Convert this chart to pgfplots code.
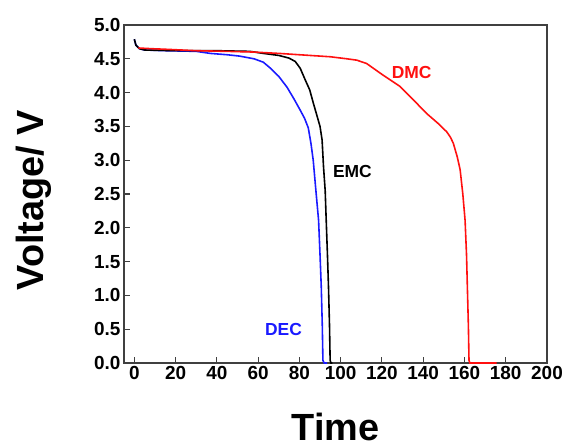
\documentclass[border=0pt]{standalone}
\usepackage{pgfplots}
\pgfplotsset{compat=1.18}
\usepackage{fontspec}
\setmainfont{Liberation Sans}
\definecolor{axisgray}{HTML}{404040}
\definecolor{dmcred}{HTML}{FF1010}
\definecolor{decblue}{HTML}{1A1AFF}
\begin{document}
\begin{tikzpicture}
\begin{axis}[
  at={(0,0)}, anchor=south west,
  scale only axis, width=423bp, height=338bp,
  xmin=-5, xmax=200, ymin=0, ymax=5,
  xtick={0,20,...,200}, ytick={0,0.5,...,5},
  axis line style={axisgray, line width=1.3pt},
  tick style={axisgray, line width=1.1pt},
  tick align=inside, major tick length=6bp,
  xtick pos=bottom, ytick pos=left,
  /pgf/number format/assume math mode=true,
  tick label style={font=\fontsize{19}{20}\selectfont\bfseries},
  yticklabel style={/pgf/number format/.cd, fixed, fixed zerofill, precision=1},
  xticklabel style={/pgf/number format/.cd, fixed, precision=0},
  xlabel={Time}, ylabel={Voltage/ V},
  label style={font=\fontsize{38}{40}\selectfont\bfseries},
  xlabel style={at={(axis description cs:0.5,-0.19)}, anchor=center},
  ylabel style={at={(axis description cs:-0.213,0.482)}, anchor=center},
  clip=false,
]
% DEC (blue)
\addplot[decblue, line width=1.6pt] coordinates {
(0,4.79) (0.8,4.70) (2.5,4.65) (5,4.63) (15,4.62) (30,4.61) (36.8,4.58) (45,4.56) (51,4.54) (58,4.50) (62.5,4.45)
(66,4.36) (70,4.24) (74,4.08) (77.5,3.90) (80.4,3.74) (82.5,3.62) (84.3,3.48) (85.6,3.25) (86.7,3.00)
(88,2.55) (89.3,2.11) (90,1.60) (90.6,1.13) (91.1,0.55) (91.4,0.04) (92,0.0) (93.5,0.0)
};
% EMC (black)
\addplot[black, line width=1.6pt] coordinates {
(0,4.79) (0.8,4.70) (2.5,4.65) (5,4.63) (20,4.62) (40,4.62) (56,4.61) (62.5,4.58) (70,4.55) (75,4.51) (78,4.46)
(80.4,4.36) (82.8,4.19) (85,4.04) (86.8,3.84) (88.5,3.66) (90,3.50) (91,3.30) (91.7,2.90)
(92.5,2.55) (93,2.11) (93.6,1.60) (94.1,1.13) (94.6,0.55) (94.9,0.04) (95.3,0.0) (96,0.0)
};
% DMC (red)
\addplot[dmcred, line width=1.6pt] coordinates {
(2,4.66) (8,4.65) (16,4.64) (30,4.62) (45,4.61) (57.6,4.60) (70,4.58) (85,4.55) (95,4.53) (103,4.50) (107.8,4.48)
(112.6,4.43) (120,4.27) (128.8,4.09) (135,3.90) (141.7,3.69) (147,3.55) (151.4,3.42) (153.2,3.34) (154.6,3.25)
(156.5,3.05) (157.9,2.86) (159.2,2.50) (160.3,2.11) (161,1.60) (161.4,1.13) (161.9,0.55) (162.2,0.04) (162.6,0.0) (175.6,0.0)
};
\node[font=\fontsize{17.5}{19}\selectfont\bfseries, text=dmcred] at (axis cs:134.4,4.29) {DMC};
\node[font=\fontsize{17.5}{19}\selectfont\bfseries, text=black] at (axis cs:105.7,2.83) {EMC};
\node[font=\fontsize{17.5}{19}\selectfont\bfseries, text=decblue] at (axis cs:72.3,0.49) {DEC};
\end{axis}
\pgfresetboundingbox
\path[use as bounding box] (-124bp,-85bp) rectangle (440bp,363bp);
\end{tikzpicture}
\end{document}
